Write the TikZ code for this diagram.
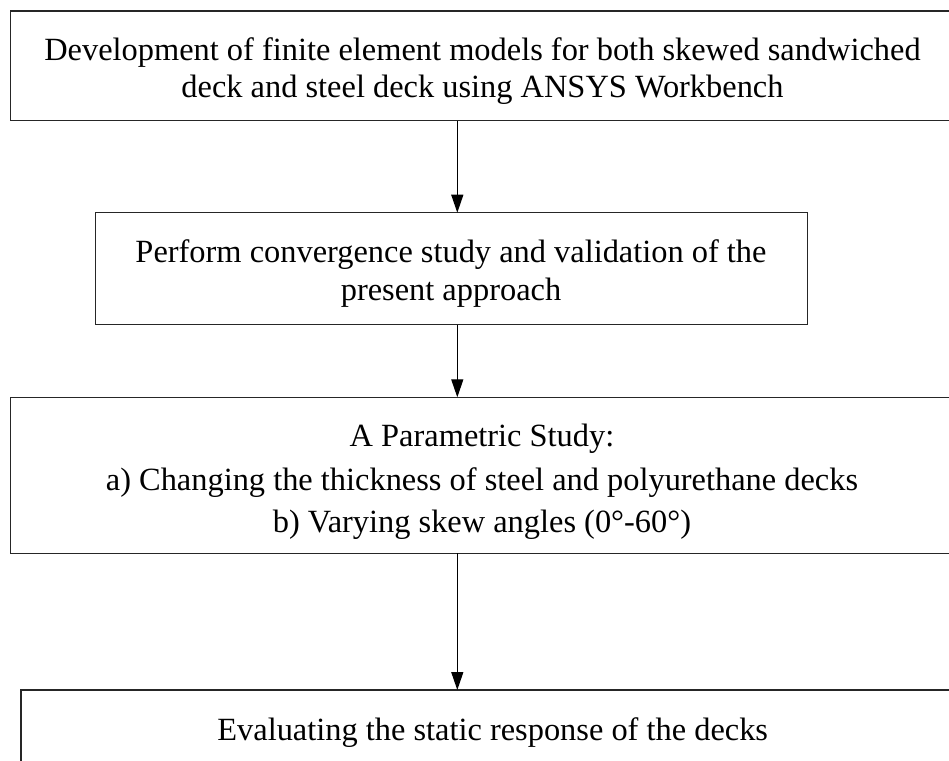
\documentclass[tikz,border=0pt]{standalone}
\usepackage{fontspec}
\setmainfont{Liberation Serif}
\usetikzlibrary{arrows.meta}
\begin{document}
\begin{tikzpicture}[x=1pt,y=-1pt,
  box/.style={draw=black!85,line width=1.4pt,inner sep=0pt,outer sep=0pt,rectangle},
  txt/.style={anchor=base,inner sep=0pt,font=\fontsize{32.4pt}{40pt}\selectfont},
  arr/.style={draw=black,line width=1.3pt,-{Triangle[length=18pt,width=12pt]}}]
\useasboundingbox (0,0) rectangle (949,760);
\clip (0,0) rectangle (949,760);
% boxes
\node[box,minimum width=943.3pt,minimum height=109.7pt] (b1) at (482.35,65.85) {};
\node[box,minimum width=712pt,minimum height=112pt] (b2) at (451.3,268.7) {};
\node[box,minimum width=942.6pt,minimum height=156pt] (b3) at (482,475.3) {};
\node[box,minimum width=943pt,minimum height=140pt] (b4) at (492.5,760) {};
% texts
\node[txt] (t1a) at (482.5,60.7) {Development of finite element models for both skewed sandwiched};
\node[txt] (t1b) at (482.5,97.3) {deck and steel deck using ANSYS Workbench};
\node[txt] (t2a) at (451,262.7) {Perform convergence study and validation of the};
\node[txt] (t2b) at (451,300) {present approach};
\node[txt] (t3a) at (482,446.7) {A Parametric Study:};
\node[txt] (t3b) at (482,490) {a) Changing the thickness of steel and polyurethane decks};
\node[txt] (t3c) at (482,532.7) {b) Varying skew angles (0°-60°)};
\node[txt] (t4) at (492.7,740) {Evaluating the static response of the decks};
% connectors
\coordinate (ax) at (457.3,0);
\draw[arr] (b1.south -| ax) -- (b2.north -| ax);
\draw[arr] (b2.south -| ax) -- (b3.north -| ax);
\draw[arr] (b3.south -| ax) -- (b4.north -| ax);
\end{tikzpicture}
\end{document}
